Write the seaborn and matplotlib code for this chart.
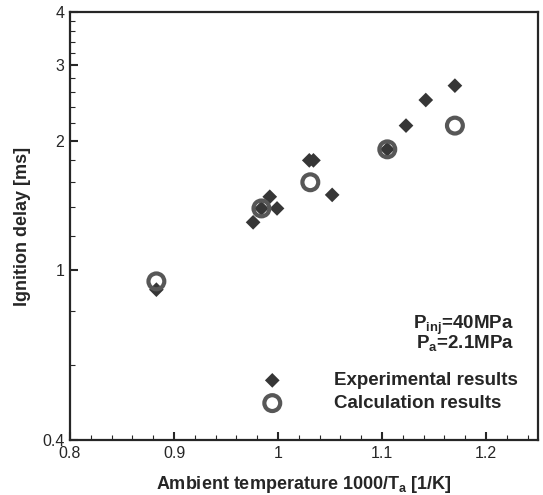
import numpy as np
import pandas as pd
from matplotlib import pyplot as plt
from matplotlib.ticker import FixedLocator, FixedFormatter, NullFormatter
import seaborn as sns

# %% Data
expX = [0.883, 0.976, 0.984, 0.992, 0.999, 1.030, 1.034, 1.052, 1.105, 1.123, 1.142, 1.170]
expY = [0.898, 1.29, 1.39, 1.48, 1.39, 1.80, 1.80, 1.495, 1.91, 2.17, 2.49, 2.69]
calcX = [0.883, 0.984, 1.031, 1.105, 1.170]
calcY = [0.939, 1.39, 1.60, 1.91, 2.17]

xMajor = [0.8, 0.9, 1.0, 1.1, 1.2]
xLabels = ["0.8", "0.9", "1", "1.1", "1.2"]
yMajor = [0.4, 1, 2, 3, 4]
yLabels = ["0.4", "1", "2", "3", "4"]
yMinor = [0.6, 0.8, 1.2, 1.4, 1.6, 1.8, 2.2, 2.4, 2.6, 2.8, 3.2, 3.4, 3.6, 3.8]

# %% Style
sns.set_style("ticks")
plt.rcParams["font.family"] = ["Liberation Sans", "DejaVu Sans"]
plt.rcParams["mathtext.fontset"] = "custom"
plt.rcParams["mathtext.rm"] = "Liberation Sans"
plt.rcParams["mathtext.bf"] = "Liberation Sans:bold"

exp = pd.DataFrame({"x": expX, "y": expY})
calc = pd.DataFrame({"x": calcX, "y": calcY})

fig = plt.figure(figsize=(5.43, 4.95), dpi=100)
ax = fig.add_axes([0.129, 0.111, 0.862, 0.865])

sns.scatterplot(x="x", y="y", data=exp, ax=ax, marker="D", s=56,
                color="#363636", edgecolor="none", label="Experimental results")
sns.scatterplot(x="x", y="y", data=calc, ax=ax, marker="o", s=130,
                facecolor="none", edgecolor="#575757", linewidth=3.0,
                label="Calculation results")

ax.set_yscale("log")
ax.set_xlim(0.8, 1.25)
ax.set_ylim(0.4, 4)

ax.xaxis.set_major_locator(FixedLocator(xMajor))
ax.xaxis.set_major_formatter(FixedFormatter(xLabels))
ax.xaxis.set_minor_locator(FixedLocator(np.arange(0.8, 1.251, 0.02)))
ax.yaxis.set_major_locator(FixedLocator(yMajor))
ax.yaxis.set_major_formatter(FixedFormatter(yLabels))
ax.yaxis.set_minor_locator(FixedLocator(yMinor))
ax.yaxis.set_minor_formatter(NullFormatter())

ax.tick_params(which="major", direction="in", length=6, width=1.5, labelsize=11.5, pad=4)
ax.tick_params(which="minor", direction="in", length=3.5, width=0.8)
for sp in ax.spines.values():
    sp.set_linewidth(1.6)
    sp.set_visible(True)

ax.set_xlabel("Ambient temperature 1000/T$_{\\mathregular{a}}$ [1/K]",
              fontsize=13, fontweight="bold", labelpad=10)
ax.set_ylabel("Ignition delay [ms]", fontsize=13, fontweight="bold", labelpad=8)

ax.text(0.948, 0.268, "P$_{\\mathregular{inj}}$=40MPa", transform=ax.transAxes,
        ha="right", va="center", fontsize=13.5, fontweight="bold")
ax.text(0.948, 0.224, "P$_{\\mathregular{a}}$=2.1MPa", transform=ax.transAxes,
        ha="right", va="center", fontsize=13.5, fontweight="bold")

leg = ax.legend(loc="center left", bbox_to_anchor=(0.392, 0.112), frameon=False,
                borderaxespad=0, borderpad=0, handletextpad=2.3, labelspacing=0.3,
                prop={"size": 13.5, "weight": "bold"})

plt.savefig("out.png", dpi=100)
plt.close()
